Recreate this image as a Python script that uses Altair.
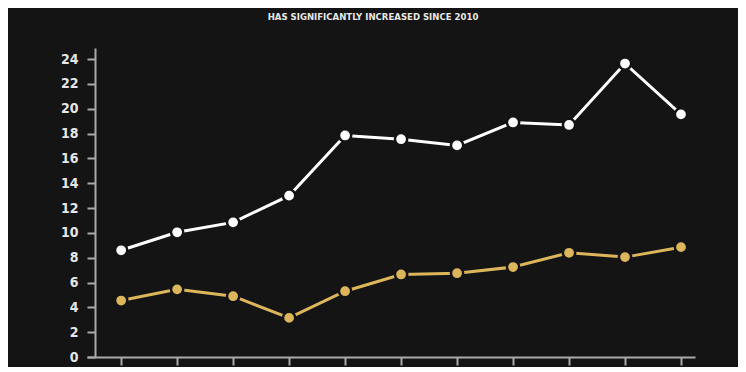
import altair as alt
import pandas as pd

years = [2010, 2011, 2012, 2013, 2014, 2015, 2016, 2017, 2018, 2019, 2020]
white_vals = [8.6, 10.05, 10.85, 13.0, 17.85, 17.55, 17.05, 18.9, 18.7, 23.65, 19.55]
gold_vals = [4.55, 5.45, 4.9, 3.15, 5.3, 6.65, 6.75, 7.25, 8.4, 8.05, 8.85]
series_names = ["white", "gold"]
series_colors = ["#ffffff", "#ddb65b"]
y_ticks = list(range(0, 25, 2))
title_text = "HAS SIGNIFICANTLY INCREASED SINCE 2010"

BG = "#141414"
FONT = "DejaVu Sans Condensed, Liberation Sans Narrow, sans-serif"

rows = []
for name, vals in zip(series_names, [white_vals, gold_vals]):
    for yr, v in zip(years, vals):
        rows.append({"year": yr, "value": v, "series": name})
df = pd.DataFrame(rows)

x = alt.X(
    "year:Q",
    scale=alt.Scale(domain=[2009.39, 2020.25], nice=False, zero=False),
    axis=alt.Axis(values=years, labels=False, title=None, grid=False,
                  tickSize=8, tickWidth=2, tickColor="#aaaaaa",
                  domainColor="#aaaaaa", domainWidth=2),
)
y = alt.Y(
    "value:Q",
    scale=alt.Scale(domain=[0, 24.9], nice=False),
    axis=alt.Axis(values=y_ticks, title=None, grid=False, offset=-8,
                  tickSize=8, tickWidth=2, tickColor="#aaaaaa",
                  domainColor="#aaaaaa", domainWidth=2,
                  labelPadding=9, labelFont=FONT, labelFontSize=14,
                  labelFontWeight="bold", labelColor="#e6e6e6"),
)
color = alt.Color("series:N", scale=alt.Scale(domain=series_names, range=series_colors), legend=None)

base = alt.Chart(df).encode(x=x, y=y, color=color, detail="series:N")
lines = base.mark_line(strokeWidth=3)
points = base.mark_point(filled=True, size=150, opacity=1, stroke=BG, strokeWidth=2.5, strokeOpacity=1).encode(
    fill=alt.Fill("series:N", scale=alt.Scale(domain=series_names, range=series_colors), legend=None)
)

chart = (
    alt.layer(lines, points)
    .properties(
        width=608,
        height=309,
        autosize=alt.AutoSizeParams(type="none"),
        padding={"left": 79, "top": 40, "right": 43, "bottom": 10},
        background=BG,
        title=alt.TitleParams(title_text, font=FONT, fontSize=9.5, fontWeight="bold",
                              color="#e6e6e6", anchor="middle", dx=-18, offset=27),
    )
    .configure_view(stroke=None)
)

chart.save("out.html", embed_options={"renderer": "svg", "actions": False})
